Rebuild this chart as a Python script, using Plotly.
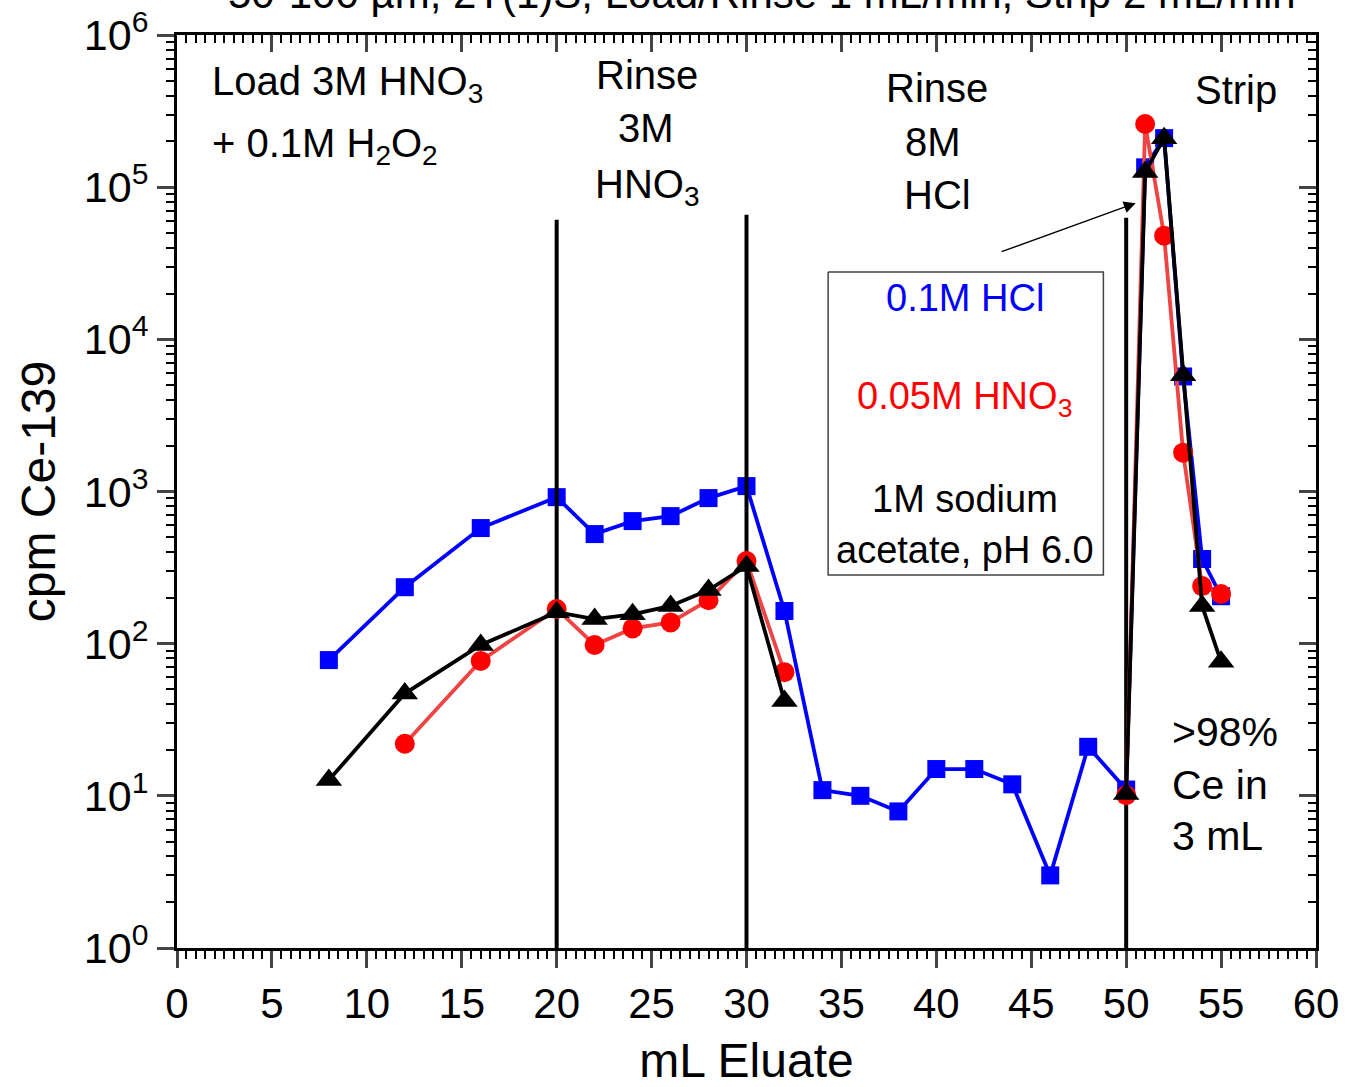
import plotly.graph_objects as go

# ---------------- data ----------------
hcl_x = [8, 12, 16, 20, 22, 24, 26, 28, 30, 32, 34, 36, 38, 40, 42, 44, 46, 48, 50, 51, 52, 53, 54, 55]
hcl_y = [78, 235, 575, 918, 525, 639, 689, 905, 1085, 164, 10.9, 10, 7.9, 15, 15, 11.9, 3.0, 21, 11,
         1.35e5, 2.1e5, 5700, 360, 205]

hno3_x = [12, 16, 20, 22, 24, 26, 28, 30, 32, None, 50, 51, 52, 53, 54, 55]
hno3_y = [22, 77, 169, 98, 126, 138, 193, 349, 65, None, 10.1, 2.6e5, 4.8e4, 1800, 239, 212]

naac_x = [8, 12, 16, 20, 22, 24, 26, 28, 30, 32, None, 50, 51, 52, 53, 54, 55]
naac_y = [12.7, 47, 98, 161, 145, 156, 177, 225, 324, 42, None, 10.3, 1.26e5, 2.1e5, 5800, 177, 76]

divider_x = [20, 30, 50]
divider_top = [6.1e4, 6.6e4, 6.3e4]

box_x = [34.3, 48.8]
box_y = [283, 2.77e4]

x_ticks = list(range(0, 61, 5))
y_exp = [0, 1, 2, 3, 4, 5, 6]
y_ticks = [10 ** e for e in y_exp]
y_ticktext = ["10<sup>%d</sup>" % e for e in y_exp]
y_minor = [m * 10 ** e for e in y_exp[:-1] for m in range(2, 10)]

FONT = "Liberation Sans, Arial, sans-serif"

fig = go.Figure()

# blue series
fig.add_trace(go.Scatter(x=hcl_x, y=hcl_y, mode="lines+markers",
                         line=dict(color="#0000FF", width=3.8),
                         marker=dict(symbol="square", size=18, color="#0000FF"),
                         xaxis="x", yaxis="y"))

# divider lines
for dx, dt in zip(divider_x, divider_top):
    fig.add_trace(go.Scatter(x=[dx, dx], y=[1, dt], mode="lines",
                             line=dict(color="black", width=4), xaxis="x", yaxis="y"))

# box around legend texts
fig.add_trace(go.Scatter(x=[box_x[0], box_x[1], box_x[1], box_x[0], box_x[0]],
                         y=[box_y[1], box_y[1], box_y[0], box_y[0], box_y[1]],
                         mode="lines", line=dict(color="#444444", width=1.5),
                         xaxis="x", yaxis="y"))

# red series
fig.add_trace(go.Scatter(x=hno3_x, y=hno3_y, mode="lines+markers", connectgaps=False,
                         line=dict(color="#EE4444", width=3.8),
                         marker=dict(symbol="circle", size=20, color="#FF0000"),
                         xaxis="x", yaxis="y"))

# black series
fig.add_trace(go.Scatter(x=naac_x, y=naac_y, mode="lines+markers", connectgaps=False,
                         line=dict(color="#000000", width=3.8),
                         marker=dict(symbol="triangle-up", size=23, color="#000000"),
                         xaxis="x", yaxis="y"))

axis_common = dict(showline=True, linecolor="black", linewidth=3, showgrid=False,
                   zeroline=False, automargin=False)

fig.update_layout(
    width=1347, height=1087,
    margin=dict(l=177, r=31, t=35, b=139),
    paper_bgcolor="white", plot_bgcolor="white",
    showlegend=False,
    font=dict(family=FONT, color="black"),
    xaxis=dict(range=[0, 60], tickvals=x_ticks, ticks="outside", ticklen=17, tickwidth=3,
               tickfont=dict(size=42, family=FONT),
               minor=dict(dtick=0.5, ticks="outside", ticklen=8, tickwidth=2, tickcolor="black"),
               title=dict(text="mL Eluate", font=dict(size=48, family=FONT), standoff=26),
               **axis_common),
    xaxis2=dict(range=[0, 60], overlaying="x", side="top", tickvals=x_ticks, ticks="inside",
                ticklen=17, tickwidth=3, showticklabels=False,
                minor=dict(dtick=0.5, ticks="inside", ticklen=8, tickwidth=2, tickcolor="black"),
                **axis_common),
    yaxis=dict(type="log", range=[0, 6], tickvals=y_ticks, ticktext=y_ticktext,
               ticks="outside", ticklen=17, tickwidth=3,
               tickfont=dict(size=43, family=FONT),
               minor=dict(tickvals=y_minor, ticks="outside", ticklen=8, tickwidth=2, tickcolor="black"),
               title=dict(text="cpm Ce-139", font=dict(size=48, family=FONT), standoff=14),
               **axis_common),
    yaxis2=dict(type="log", range=[0, 6], overlaying="y", side="right", tickvals=y_ticks,
                ticks="inside", ticklen=17, tickwidth=3, showticklabels=False,
                minor=dict(tickvals=y_minor, ticks="inside", ticklen=8, tickwidth=2, tickcolor="black"),
                **axis_common),
)

# dummy trace to activate the mirrored axes
fig.add_trace(go.Scatter(x=[None], y=[None], xaxis="x2", yaxis="y2", hoverinfo="skip"))

annotations = []


def txt(text, x, y, size=40, color="black", xanchor="center"):
    annotations.append(dict(text=text, x=x, y=y, xref="x", yref="y", showarrow=False,
                            xanchor=xanchor, yanchor="middle",
                            font=dict(size=size, color=color, family=FONT)))


txt("Load 3M HNO<sub>3</sub>", 1.74, 5.68, xanchor="left")
txt("+ 0.1M H<sub>2</sub>O<sub>2</sub>", 1.74, 5.27, xanchor="left")
txt("Rinse", 24.76, 5.737)
txt("3M", 24.7, 5.389)
txt("HNO<sub>3</sub>", 24.76, 5.0)
txt("Rinse", 40.04, 5.652)
txt("8M", 39.8, 5.297)
txt("HCl", 40.04, 4.948)
txt("Strip", 55.8, 5.638)
txt(">98%", 52.32, 1.419, size=41, xanchor="left")
txt("Ce in", 52.32, 1.071, size=41, xanchor="left")
txt("3 mL", 52.32, 0.736, size=41, xanchor="left")
txt("0.1M HCl", 41.5, 4.272, size=38, color="#0000FF")
txt("0.05M HNO<sub>3</sub>", 41.5, 3.61, size=38, color="#FF0000")
txt("1M sodium", 41.5, 2.951, size=38)
txt("acetate, pH 6.0", 41.5, 2.616, size=38)

# arrow
annotations.append(dict(text="", x=50.5, y=4.895, ax=43.36, ay=4.573, xref="x", yref="y",
                        axref="x", ayref="y", showarrow=True, arrowhead=2, arrowsize=1.7,
                        arrowwidth=1.4, arrowcolor="black", standoff=0))

# clipped title at the very top
annotations.append(dict(text="50-100 µm, 2T(1)S, Load/Rinse 1 mL/min, Strip 2 mL/min",
                        x=0.514, y=1.046, xref="paper", yref="paper", showarrow=False,
                        xanchor="center", yanchor="middle",
                        font=dict(size=42, family=FONT, color="black")))

fig.update_layout(annotations=annotations)

fig.write_html("out.html")
